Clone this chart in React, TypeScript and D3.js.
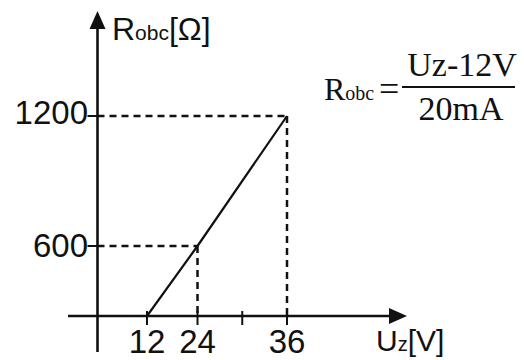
import React from 'react';
import * as d3 from 'd3';

const width = 524;
const height = 360;

// schematic chart: axes are not to scale, so piecewise scales
const uBreaks = [0, 12, 24, 36];
const rBreaks = [0, 600, 1200];
const xTicks = [12, 24, 30, 36];
const xTickLabels = ['12', '24', '', '36'];
const yTicks = [600, 1200];
const yTickLabels = ['600', '1200'];
const lineU = [12, 24, 36];
const lineR = [0, 600, 1200];
const guideU = [24, 36];
const guideR = [600, 1200];

const sans = 'Liberation Sans, Arial, sans-serif';
const serif = 'Liberation Serif, Times New Roman, serif';

const xScale = d3.scaleLinear().domain(uBreaks).range([97.5, 147, 197.5, 287]);
const yScale = d3.scaleLinear().domain(rBreaks).range([316, 246, 116]);

export default function App() {
  const x0 = xScale(0);
  const y0 = yScale(0);
  const points: [number, number][] = lineU.map((u, i) => [u, lineR[i]]);
  const path = d3.line<[number, number]>()
    .x(d => xScale(d[0]))
    .y(d => yScale(d[1]))(points);

  return (
    <svg width={width} height={height} style={{ position: 'absolute', left: 0, top: 0, background: '#fff' }}>
      {/* axes */}
      <line x1={x0} y1={352} x2={x0} y2={26} stroke="#111" strokeWidth={2.6} />
      <path d={`M${x0},11 L${x0 - 8},29 L${x0 + 8},29 Z`} fill="#111" />
      <line x1={68} y1={y0} x2={392} y2={y0} stroke="#111" strokeWidth={2.6} />
      <path d={`M407,${y0} L389,${y0 - 8} L389,${y0 + 8} Z`} fill="#111" />

      {/* guide lines */}
      {guideU.map((u, i) => (
        <g key={i} stroke="#111" strokeWidth={2.5} strokeDasharray="7,5" fill="none">
          <line x1={x0} y1={yScale(guideR[i])} x2={xScale(u)} y2={yScale(guideR[i])} />
          <line x1={xScale(u)} y1={yScale(guideR[i])} x2={xScale(u)} y2={y0} />
        </g>
      ))}

      {/* x ticks */}
      {xTicks.map((t, i) => (
        <g key={i}>
          <line x1={xScale(t)} y1={y0 - 5} x2={xScale(t)} y2={y0 + 9} stroke="#111" strokeWidth={2} />
          <text x={xScale(t)} y={353} textAnchor="middle" fontFamily={sans} fontSize={33} fill="#111">
            {xTickLabels[i]}
          </text>
        </g>
      ))}

      {/* y ticks */}
      {yTicks.map((t, i) => (
        <g key={i}>
          <line x1={x0 - 10} y1={yScale(t)} x2={x0} y2={yScale(t)} stroke="#111" strokeWidth={2} />
          <text x={88} y={yScale(t) + 8 + (i === 1 ? 0 : 3)} textAnchor="end" fontFamily={sans} fontSize={33} fill="#111">
            {yTickLabels[i]}
          </text>
        </g>
      ))}

      {/* data line */}
      <path d={path || ''} fill="none" stroke="#111" strokeWidth={2.2} />

      {/* axis titles */}
      <text x={112} y={40} fontFamily={sans} fontSize={32} fill="#111">
        R<tspan fontSize={21}>obc</tspan>[Ω]
      </text>
      <text x={376} y={351} fontFamily={sans} fontSize={30} fill="#111">
        U<tspan fontSize={20}>z</tspan>[V]
      </text>

      {/* formula */}
      <text x={324} y={100} fontFamily={serif} fontSize={32} fill="#111">
        R<tspan fontSize={20}>obc</tspan>
      </text>
      <text x={379} y={101} fontFamily={serif} fontSize={36} fill="#111">=</text>
      <line x1={402} y1={87} x2={515} y2={87} stroke="#111" strokeWidth={2} />
      <text x={462} y={76} textAnchor="middle" fontFamily={serif} fontSize={34} fill="#111">Uz-12V</text>
      <text x={461} y={120} textAnchor="middle" fontFamily={serif} fontSize={34} fill="#111">20mA</text>
    </svg>
  );
}
